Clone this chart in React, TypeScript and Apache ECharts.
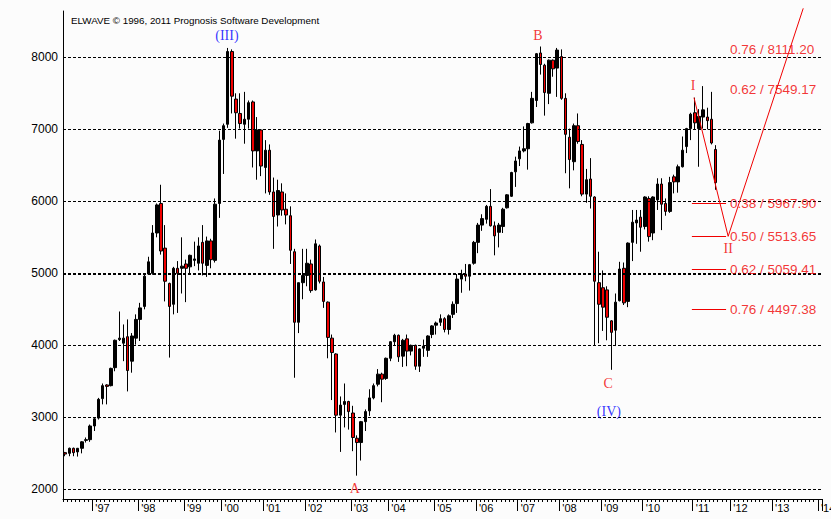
import React, { useEffect, useRef } from 'react';
import * as echarts from 'echarts';

// ---- candle data (bar order, left to right) ----
const opens = [
  2510, 2500, 2570, 2520, 2570, 2680, 2690, 2880, 2990, 3260, 3450, 3440, 3690, 4080, 4030, 4120, 3780, 4100, 4360, 4540,
  4990, 5000, 5560, 5970, 5350, 4860, 4570, 5070, 5070, 5130, 5090, 5180, 5140, 5430, 5110, 5450, 5180, 5970, 6860, 7070,
  8080, 7420, 7220, 7070, 7140, 7380, 6700, 6990, 6470, 6710, 6130, 5810, 6130, 5890, 5800, 5300, 4320, 4870, 4970, 5130,
  4770, 5380, 4880, 4600, 4100, 3880, 3030, 3180, 3220, 3060, 2710, 2650, 2940, 3090, 3270, 3460, 3600, 3540, 3820, 4050,
  4140, 3850, 4090, 3920, 4000, 3710, 3960, 3930, 4150, 4280, 4320, 4370, 4220, 4430, 4580, 4920, 4990, 4960, 5140, 5430,
  5670, 5750, 5930, 5660, 5570, 5650, 5910, 6070, 6410, 6590, 6700, 6730, 7090, 7400, 8060, 7890, 7500, 7960, 7850, 8010,
  7430, 6890, 6550, 7050, 6790, 6100, 6310, 6060, 4870, 4800, 4770, 4340, 4210, 4620, 5070, 4610, 5430, 5700, 5780, 5650,
  6040, 5560, 6020, 6240, 5970, 5860, 6340, 6270, 6480, 6760, 7010, 7230, 7010, 7170, 7170, 7140, 6720
];
const closes = [
  2490, 2570, 2510, 2570, 2660, 2690, 2880, 2980, 3250, 3440, 3430, 3680, 4070, 4100, 4100, 3650, 4130, 4360, 4520, 4960,
  5160, 5560, 5950, 5310, 4890, 4540, 5070, 5000, 5100, 5070, 5250, 5200, 5380, 5140, 5450, 5190, 5960, 6850, 7050, 8080,
  7460, 7230, 7080, 7140, 7370, 6700, 6990, 6490, 6710, 6130, 5790, 6150, 5880, 5810, 5320, 4320, 4870, 4970, 5140, 4760,
  5410, 4890, 4610, 4110, 3900, 3030, 3170, 3220, 3080, 2720, 2650, 2940, 3080, 3270, 3440, 3600, 3530, 3820, 4050, 4140,
  3840, 4070, 3920, 4000, 3710, 3950, 3990, 4130, 4270, 4310, 4370, 4220, 4410, 4570, 4920, 4990, 4960, 5120, 5430, 5670,
  5760, 5930, 5660, 5520, 5670, 5890, 6090, 6400, 6560, 6700, 6730, 7080, 7430, 8050, 7900, 7510, 7960, 7840, 8100, 7430,
  6930, 6580, 7050, 6830, 6100, 6300, 6070, 4890, 4570, 4530, 4390, 4180, 4600, 5060, 4590, 5420, 5710, 5740, 5640, 6060,
  5510, 6060, 6240, 5960, 5860, 6260, 6270, 6480, 6710, 7010, 7210, 7090, 7180, 7270, 7120, 6810, 6260
];
const lows = [
  2460, 2460, 2460, 2455, 2500, 2650, 2660, 2810, 2970, 3180, 3180, 3430, 3640, 4060, 3780, 3360, 3620, 4010, 4060, 4500,
  4980, 4980, 5500, 5260, 4610, 3830, 4430, 4450, 4720, 4600, 4980, 5100, 5040, 4970, 4950, 5070, 5150, 5770, 6380, 7020,
  7220, 6870, 7010, 6800, 7010, 6470, 6300, 6350, 6110, 6090, 5340, 5650, 5800, 5680, 5130, 3550, 4170, 4640, 4820, 4730,
  4760, 4860, 4520, 3820, 3240, 2790, 2520, 2860, 2830, 2530, 2190, 2400, 2810, 3020, 3250, 3430, 3210, 3520, 3780, 3990,
  3770, 3700, 3710, 3860, 3660, 3630, 3840, 3840, 4100, 4150, 4270, 4180, 4150, 4380, 4450, 4730, 4890, 4760, 5120, 5280,
  5590, 5690, 5650, 5250, 5360, 5560, 5900, 6060, 6200, 6490, 6680, 6440, 7080, 7310, 7760, 7190, 7350, 7730, 7450, 7410,
  6390, 6180, 6430, 6800, 6070, 5980, 5900, 4000, 4030, 4200, 4070, 3660, 3990, 4610, 4560, 4530, 5170, 5410, 5300, 5610,
  5440, 5460, 5880, 5600, 5800, 5840, 6110, 6120, 6470, 6670, 6850, 6990, 6480, 7010, 7000, 6790, 6160
];
const highs = [
  2520, 2580, 2580, 2575, 2670, 2720, 2900, 3000, 3270, 3470, 3460, 3690, 4080, 4470, 4290, 4360, 4170, 4430, 4590, 4980,
  5230, 5670, 5970, 6230, 5670, 4870, 5090, 5170, 5500, 5190, 5260, 5440, 5500, 5670, 5510, 5480, 6040, 6980, 7080, 8130,
  8110, 7500, 7500, 7520, 7400, 7400, 7170, 7000, 6850, 6790, 6330, 6300, 6250, 6110, 5930, 5340, 4870, 5340, 5340, 5190,
  5470, 5400, 4950, 4610, 4150, 3890, 3290, 3470, 3230, 3160, 2750, 2950, 3110, 3390, 3470, 3670, 3620, 3830, 4060, 4160,
  4150, 4090, 4150, 4010, 4010, 3960, 4080, 4140, 4280, 4330, 4430, 4390, 4430, 4610, 4990, 5050, 5130, 5130, 5450, 5700,
  5820, 5950, 6170, 5720, 5700, 5910, 6100, 6410, 6620, 6760, 7040, 7090, 7520, 8060, 8150, 7910, 7970, 7970, 8130, 8110,
  7500, 7010, 7080, 7220, 6850, 6450, 6600, 6070, 5300, 5040, 4820, 4350, 4720, 5160, 5150, 5430, 5880, 5880, 5880, 6070,
  6070, 6070, 6320, 6320, 6040, 6340, 6370, 6510, 6900, 7020, 7230, 7440, 7280, 7600, 7300, 7520, 6780
];

// ---- time axis (bar slots) ----
const totalSlots = 182;
const yearLabels = ["'97", "'98", "'99", "'00", "'01", "'02", "'03", "'04", "'05", "'06", "'07", "'08", "'09", "'10", "'11", "'12", "'13", "'14"];
const yearStarts = [7, 18, 29, 38, 48, 58, 69, 78, 89, 99, 109, 119, 129, 139, 151, 160, 170, 181];

// ---- price grid ----
const gridLevels = [2000, 3000, 4000, 5000, 6000, 7000, 8000];

// ---- wave labels (bar position, price, text, colour) ----
const waveText = ['(III)', 'B', 'A', 'C', '(IV)', 'I', 'II'];
const waveBar = [39.3, 113.9, 70.0, 130.7, 130.9, 151.1, 159.5];
const wavePrice = [8305, 8305, 2017, 3471, 3083, 7612, 5341];
const waveColor = ['#0000ff', '#f00000', '#f00000', '#f00000', '#0000ff', '#f00000', '#f00000'];

// ---- projection I -> II -> target ----
const projBar = [151.3, 159.5, 177.5];
const projPrice = [7440, 5513.65, 8680];

// ---- Fibonacci levels ----
const fibRatio = ['0.76', '0.62', '0.38', '0.50', '0.62', '0.76'];
const fibPrice = [8111.2, 7549.17, 5967.9, 5513.65, 5059.41, 4497.38];
const fibHasLine = [false, false, true, true, true, true];
const fibLineBar = [150.8, 159.0];
const fibLabelBar = 159.95;

const RED = '#f00000';
const FONT = '"Liberation Sans", Arial, sans-serif';

export default function App() {
  const ref = useRef<HTMLDivElement>(null);
  useEffect(() => {
    if (!ref.current) return;
    const chart = echarts.init(ref.current, null, { renderer: 'svg' });
    const cats = Array.from({ length: totalSlots }, (_, i) => String(i));
    const labelAt: Record<number, string> = {};
    yearStarts.forEach((s, k) => { labelAt[s] = yearLabels[k]; });

    const candles = opens.map((o, i) => [o, closes[i], lows[i], highs[i]]);

    const option: any = {
      animation: false,
      backgroundColor: '#fcfcfc',
      title: {
        text: 'ELWAVE \u00a9 1996, 2011 Prognosis Software Development',
        left: 66, top: 10,
        textStyle: { fontSize: 9.8, fontWeight: 'normal', color: '#000', fontFamily: FONT },
      },
      grid: { left: 63, top: 11, width: 759, height: 488, containLabel: false, outerBoundsMode: 'none' },
      xAxis: [
        {
          type: 'category', data: cats, position: 'bottom', boundaryGap: true,
          axisLine: { show: true, lineStyle: { color: '#000', width: 1 } },
          axisTick: { show: true, length: 12, interval: (idx: number) => labelAt[idx] !== undefined, lineStyle: { color: '#000' } },
          axisLabel: {
            show: true, interval: 0, align: 'left', margin: 3, hideOverlap: false,
            formatter: (v: string) => labelAt[Number(v)] || '',
            color: '#000', fontSize: 11, fontFamily: FONT, padding: [0, 0, 0, 1],
          },
          splitLine: { show: false },
        },
        {
          type: 'category', data: cats, position: 'bottom', boundaryGap: true,
          axisLine: { show: false },
          axisTick: { show: true, length: 3, interval: 0, lineStyle: { color: '#000' } },
          axisLabel: { show: false },
          splitLine: { show: false },
        },
        { type: 'value', min: 0, max: totalSlots, show: false, position: 'top' },
      ],
      yAxis: {
        type: 'value', min: 1866, max: 8643, splitNumber: 7,
        axisLine: { show: true, lineStyle: { color: '#000', width: 1 } },
        axisTick: { show: false },
        axisLabel: {
          showMinLabel: false, showMaxLabel: false, margin: 5,
          formatter: (v: number) => String(v), color: '#000', fontSize: 12, fontFamily: FONT,
        },
        splitLine: { show: false },
      },
      series: [
        {
          type: 'candlestick', xAxisIndex: 0, yAxisIndex: 0, data: candles, barWidth: 3,
          itemStyle: { color: '#000', color0: RED, borderColor: '#000', borderColor0: '#000', borderWidth: 1 },
          markLine: {
            silent: true, symbol: ['none', 'none'], label: { show: false }, animation: false,
            data: gridLevels.map((v) => ({ yAxis: v, lineStyle: { type: [3, 2], width: v === 5000 ? 2 : 1, color: '#000' } })),
          },
          z: 3,
        },
        {
          type: 'line', xAxisIndex: 2, yAxisIndex: 0, clip: false, symbol: 'none',
          data: projBar.map((b, i) => [b, projPrice[i]]),
          lineStyle: { color: RED, width: 1 },
          markLine: {
            silent: true, symbol: ['none', 'none'], label: { show: false },
            lineStyle: { color: RED, width: 1, type: 'solid' },
            data: fibPrice.filter((_, i) => fibHasLine[i]).map((p) => [
              { coord: [fibLineBar[0], p] }, { coord: [fibLineBar[1], p] },
            ]),
          },
          z: 5,
        },
        {
          type: 'scatter', xAxisIndex: 2, yAxisIndex: 0, symbolSize: 0, clip: false,
          itemStyle: { color: 'transparent' },
          data: fibPrice.map((p, i) => ({
            value: [fibLabelBar, p],
            label: { formatter: `${fibRatio[i]} / ${p.toFixed(2)}` },
          })),
          label: { show: true, position: 'right', distance: 0, color: RED, fontSize: 13.5, fontFamily: FONT },
          z: 6,
        },
        {
          type: 'scatter', xAxisIndex: 2, yAxisIndex: 0, symbolSize: 0, clip: false,
          itemStyle: { color: 'transparent' },
          data: waveText.map((t, i) => ({
            value: [waveBar[i], wavePrice[i]],
            label: { formatter: t, color: waveColor[i] },
          })),
          label: { show: true, position: 'inside', fontSize: 14, fontFamily: '"Liberation Serif", "Times New Roman", serif' },
          z: 6,
        },
      ],
    };
    chart.setOption(option);
    return () => chart.dispose();
  }, []);
  return <div ref={ref} style={{ width: 831, height: 519, position: 'absolute', left: 0, top: 0 }} />;
}
